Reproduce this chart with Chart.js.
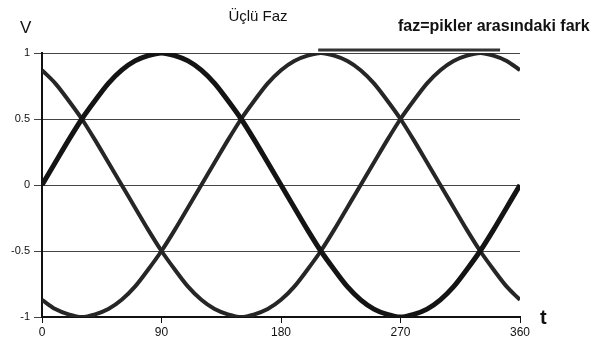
<!DOCTYPE html>
<html>
<head>
<meta charset="utf-8">
<script src="https://cdn.jsdelivr.net/npm/chart.js@4/dist/chart.umd.min.js"></script>
<style>
  html, body { margin: 0; padding: 0; background: #fff; }
  #wrap { width: 600px; height: 347px; position: relative; }
</style>
</head>
<body>
<div id="wrap"><canvas id="myChart"></canvas></div>
<script>
// angle values (t) and the three phase voltages
const angles = [0, 10, 20, 30, 40, 50, 60, 70, 80, 90, 100, 110, 120, 130, 140, 150, 160, 170, 180,
    190, 200, 210, 220, 230, 240, 250, 260, 270, 280, 290, 300, 310, 320, 330, 340, 350, 360];
const phaseA = [0, 0.17, 0.34, 0.5, 0.64, 0.77, 0.87, 0.94, 0.98, 1, 0.98, 0.94, 0.87, 0.77, 0.64, 0.5, 0.34, 0.17, 0,
    -0.17, -0.34, -0.5, -0.64, -0.77, -0.87, -0.94, -0.98, -1, -0.98, -0.94, -0.87, -0.77, -0.64, -0.5, -0.34, -0.17, 0];
const phaseB = [-0.87, -0.94, -0.98, -1, -0.98, -0.94, -0.87, -0.77, -0.64, -0.5, -0.34, -0.17, 0, 0.17, 0.34, 0.5, 0.64, 0.77, 0.87,
    0.94, 0.98, 1, 0.98, 0.94, 0.87, 0.77, 0.64, 0.5, 0.34, 0.17, 0, -0.17, -0.34, -0.5, -0.64, -0.77, -0.87];
const phaseC = [0.87, 0.77, 0.64, 0.5, 0.34, 0.17, 0, -0.17, -0.34, -0.5, -0.64, -0.77, -0.87, -0.94, -0.98, -1, -0.98, -0.94, -0.87,
    -0.77, -0.64, -0.5, -0.34, -0.17, 0, 0.17, 0.34, 0.5, 0.64, 0.77, 0.87, 0.94, 0.98, 1, 0.98, 0.94, 0.87];
// hand-drawn marker line between peaks
const markT = [208, 345];
const markV = [1.023, 1.023];

const xTicks = [0, 90, 180, 270, 360];
const yTicks = [-1, -0.5, 0, 0.5, 1];

const toPoints = (xs, ys) => xs.map((x, i) => ({ x: x, y: ys[i] }));

// extra texts: title, annotation, axis letters
const textPlugin = {
    id: 'texts',
    afterDraw(chart) {
        const c = chart.ctx;
        c.save();
        c.fillStyle = '#111';
        c.textBaseline = 'middle';
        c.textAlign = 'center';
        c.font = '15px "Liberation Sans", Arial, sans-serif';
        c.fillText('Üçlü Faz', 258, 17);
        c.font = 'bold 16px "Liberation Sans", Arial, sans-serif';
        c.textAlign = 'left';
        c.fillText('faz=pikler arasındaki fark', 398, 27);
        c.font = '17px "Liberation Sans", Arial, sans-serif';
        c.fillText('V', 20, 28);
        c.font = 'bold 20px "Liberation Sans", Arial, sans-serif';
        c.fillText('t', 540, 318);
        c.restore();
    }
};

const lineStyle = {
    borderColor: '#141414',
    pointRadius: 0,
    fill: false,
    cubicInterpolationMode: 'monotone'
};

const ctx = document.getElementById('myChart').getContext('2d');
const myChart = new Chart(ctx, {
    type: 'line',
    data: {
        datasets: [
            { ...lineStyle, label: 'A', data: toPoints(angles, phaseA), borderWidth: 5 },
            { ...lineStyle, label: 'B', data: toPoints(angles, phaseB), borderWidth: 4, borderColor: '#262626' },
            { ...lineStyle, label: 'C', data: toPoints(angles, phaseC), borderWidth: 4, borderColor: '#262626' },
            { label: 'mark', data: toPoints(markT, markV), borderColor: '#333', borderWidth: 3,
              pointRadius: 0, clip: false }
        ]
    },
    options: {
        responsive: true,
        maintainAspectRatio: false,
        animation: false,
        layout: { padding: { left: 0, right: 80, top: 53, bottom: 0 } },
        scales: {
            x: {
                type: 'linear',
                min: 0,
                max: 360,
                afterBuildTicks: (s) => { s.ticks = xTicks.map(v => ({ value: v })); },
                afterFit: (s) => { s.height = 30; },
                ticks: {
                    color: '#111',
                    padding: 2,
                    font: { family: '"Liberation Sans", Arial, sans-serif', size: 12 }
                },
                grid: { drawOnChartArea: false, tickLength: 6, color: '#111' },
                border: { color: '#111', width: 2 }
            },
            y: {
                min: -1,
                max: 1,
                afterBuildTicks: (s) => { s.ticks = yTicks.map(v => ({ value: v })); },
                afterFit: (s) => { s.width = 42; },
                ticks: {
                    color: '#111',
                    padding: 4,
                    callback: (v) => String(v),
                    font: { family: '"Liberation Sans", Arial, sans-serif', size: 11 }
                },
                grid: { color: '#444', lineWidth: 1, tickLength: 8 },
                border: { color: '#111', width: 2, dash: [] }
            }
        },
        plugins: {
            legend: { display: false },
            tooltip: { enabled: false }
        }
    },
    plugins: [textPlugin]
});
</script>
</body>
</html>
